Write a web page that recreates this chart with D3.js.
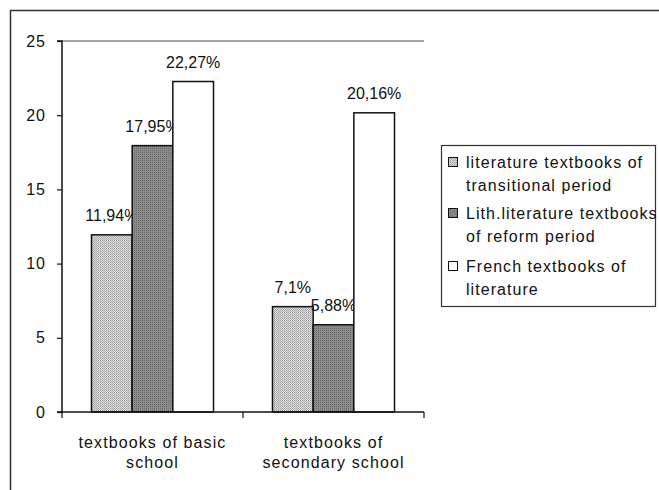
<!DOCTYPE html>
<html>
<head>
<meta charset="utf-8">
<script src="https://cdn.jsdelivr.net/npm/d3@7"></script>
<style>
  html, body { margin: 0; padding: 0; background: #fff; }
  svg { display: block; font-family: "Liberation Sans", Arial, sans-serif; }
</style>
</head>
<body>
<svg id="chart" width="659" height="490"></svg>
<script>
const categories = [["textbooks of basic", "school"], ["textbooks of", "secondary school"]];
const categoryKeys = ["basic", "secondary"];
const seriesNames = [
  ["literature textbooks of", "transitional period"],
  ["Lith.literature textbooks", "of reform period"],
  ["French textbooks of", "literature"]
];
const transitional = [11.94, 7.1];
const reform = [17.95, 5.88];
const french = [22.27, 20.16];
const valueLabels = [["11,94%", "7,1%"], ["17,95%", "5,88%"], ["22,27%", "20,16%"]];
const yTicks = [0, 5, 10, 15, 20, 25];

const seriesValues = [transitional, reform, french];
const fills = ["url(#patLight)", "url(#patDark)", "#ffffff"];

const svg = d3.select("#chart");
const defs = svg.append("defs");

const p1 = defs.append("pattern").attr("id", "patLight").attr("width", 2).attr("height", 2)
  .attr("patternUnits", "userSpaceOnUse");
p1.append("rect").attr("width", 2).attr("height", 2).attr("fill", "#d4d4d4");
p1.append("rect").attr("width", 1).attr("height", 1).attr("fill", "#a8a8a8");
p1.append("rect").attr("x", 1).attr("y", 1).attr("width", 1).attr("height", 1).attr("fill", "#b8b8b8");
const p2 = defs.append("pattern").attr("id", "patDark").attr("width", 2).attr("height", 2)
  .attr("patternUnits", "userSpaceOnUse");
p2.append("rect").attr("width", 2).attr("height", 2).attr("fill", "#8a8a8a");
p2.append("rect").attr("width", 1).attr("height", 1).attr("fill", "#6e6e6e");

svg.append("path").attr("d", "M10.5,490 V10.5 H659")
  .attr("fill", "none").attr("stroke", "#333").attr("stroke-width", 1.5);

const pLeft = 62, pRight = 424, pTop = 41, pBottom = 412;
const y = d3.scaleLinear().domain([0, 25]).range([pBottom, pTop]);
const x0 = d3.scaleBand().domain(categoryKeys).range([pLeft, pRight]).paddingInner(0).paddingOuter(0);
const x1 = d3.scaleBand().domain([0, 1, 2]).range([0, x0.bandwidth()]).paddingInner(0).paddingOuter(0.725);

svg.append("line").attr("x1", pLeft).attr("x2", pRight).attr("y1", y(25)).attr("y2", y(25))
  .attr("stroke", "#888").attr("stroke-width", 1.5);

seriesValues.forEach((vals, si) => {
  svg.append("g").selectAll("rect").data(vals).join("rect")
    .attr("x", (d, i) => x0(categoryKeys[i]) + x1(si))
    .attr("y", d => y(d))
    .attr("width", x1.bandwidth())
    .attr("height", d => y(0) - y(d))
    .attr("fill", fills[si])
    .attr("stroke", "#111")
    .attr("stroke-width", 1.5);
  svg.append("g").selectAll("text").data(vals).join("text")
    .attr("x", (d, i) => x0(categoryKeys[i]) + x1(si) + x1.bandwidth() / 2)
    .attr("y", d => y(d) - 14)
    .attr("text-anchor", "middle")
    .attr("font-size", 16)
    .attr("fill", "#111")
    .text((d, i) => valueLabels[si][i]);
});

const yAxis = d3.axisLeft(y).tickValues(yTicks).tickSize(5).tickPadding(11).tickFormat(d3.format("d"));
const gy = svg.append("g").attr("transform", `translate(${pLeft},0)`).call(yAxis);
gy.select(".domain").attr("stroke", "#111").attr("stroke-width", 1.5).attr("d", `M-5,${pTop}H0V${pBottom}H-5`);
gy.selectAll(".tick line").attr("stroke", "#111").attr("stroke-width", 1.2);
gy.selectAll(".tick text").attr("font-size", 16).attr("fill", "#111")
  .attr("font-family", "Liberation Sans, Arial, sans-serif").attr("letter-spacing", 1);

const gx = svg.append("g").attr("transform", `translate(0,${pBottom})`);
gx.append("line").attr("x1", pLeft).attr("x2", pRight).attr("stroke", "#111").attr("stroke-width", 1.5);
const tickXs = [pLeft].concat(categoryKeys.map(k => x0(k) + x0.bandwidth()));
gx.selectAll("line.t").data(tickXs).join("line").attr("class", "t")
  .attr("x1", d => d).attr("x2", d => d).attr("y1", 0).attr("y2", 6)
  .attr("stroke", "#111").attr("stroke-width", 1.2);
categories.forEach((lines, i) => {
  const t = gx.append("text").attr("text-anchor", "middle").attr("font-size", 16).attr("fill", "#111")
    .attr("letter-spacing", 1.1);
  lines.forEach((ln, j) => {
    t.append("tspan").attr("x", x0(categoryKeys[i]) + x0.bandwidth() / 2).attr("y", 36 + j * 20).text(ln);
  });
});

const lg = svg.append("g");
lg.append("rect").attr("x", 441.5).attr("y", 145.5).attr("width", 214).attr("height", 161)
  .attr("fill", "#fff").attr("stroke", "#333").attr("stroke-width", 1.2);
const itemY = [162, 213, 266];
seriesNames.forEach((lines, si) => {
  lg.append("rect").attr("x", 448.5).attr("y", itemY[si] - 4.5).attr("width", 9).attr("height", 9)
    .attr("fill", fills[si]).attr("stroke", "#111").attr("stroke-width", 1);
  lines.forEach((ln, j) => {
    lg.append("text").attr("x", 466).attr("y", itemY[si] + 6 + j * 23)
      .attr("font-size", 16).attr("fill", "#111").attr("letter-spacing", 1.05).text(ln);
  });
});
</script>
</body>
</html>
